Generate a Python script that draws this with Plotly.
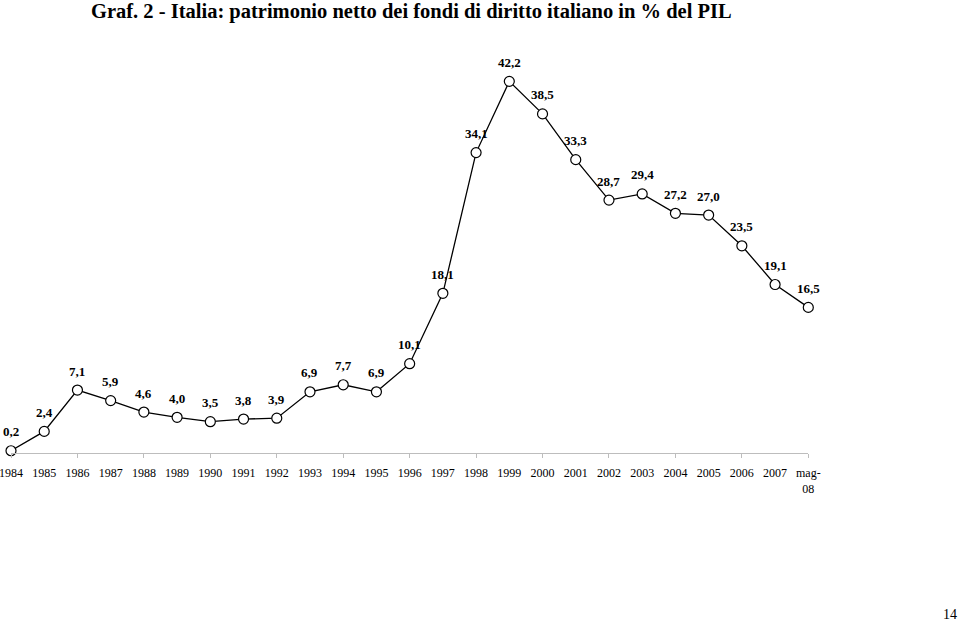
import plotly.graph_objects as go

categories = ["1984", "1985", "1986", "1987", "1988", "1989", "1990", "1991", "1992",
              "1993", "1994", "1995", "1996", "1997", "1998", "1999", "2000", "2001",
              "2002", "2003", "2004", "2005", "2006", "2007", "mag-<br>08"]
values = [0.2, 2.4, 7.1, 5.9, 4.6, 4.0, 3.5, 3.8, 3.9, 6.9, 7.7, 6.9, 10.1, 18.1,
          34.1, 42.2, 38.5, 33.3, 28.7, 29.4, 27.2, 27.0, 23.5, 19.1, 16.5]
title_text = "Graf. 2 - Italia: patrimonio netto dei fondi di diritto italiano in % del PIL"
page_number = "14"

W, H = 959, 624
xpos = list(range(len(categories)))
labels = [f"{v:.1f}".replace(".", ",") for v in values]

FONT = "Liberation Serif, Times New Roman, serif"

fig = go.Figure()
fig.add_trace(go.Scatter(
    x=xpos, y=values, mode="lines+markers",
    line=dict(color="black", width=1.3),
    marker=dict(size=10, color="white", line=dict(color="black", width=1.2)),
    cliponaxis=False, hoverinfo="skip",
))

annotations = [
    dict(x=xi, y=v, xref="x", yref="y", text=t, showarrow=False,
         xanchor="center", yanchor="middle", yshift=19,
         font=dict(family=FONT, size=13, color="black", weight="bold"))
    for xi, v, t in zip(xpos, values, labels)
]
annotations += [
    dict(text=title_text, xref="paper", yref="paper", x=89 / W, y=1 - 11 / H,
         xanchor="left", yanchor="middle", showarrow=False,
         font=dict(family=FONT, size=20.5, color="black", weight="bold")),
    dict(text=page_number, xref="paper", yref="paper", x=950 / W, y=1 - 614 / H,
         xanchor="center", yanchor="middle", showarrow=False,
         font=dict(family=FONT, size=14, color="black")),
]

x0, x1 = 11, 808.3
y_zero = 452.5
px_per_unit = 8.795
ytop = 45
fig.update_layout(
    width=W, height=H,
    margin=dict(l=0, r=0, t=0, b=0, autoexpand=False),
    paper_bgcolor="white", plot_bgcolor="white",
    showlegend=False,
    xaxis=dict(
        domain=[x0 / W, x1 / W], range=[0, len(categories) - 1],
        tickmode="array", tickvals=xpos, ticktext=categories,
        ticks="", showgrid=False, zeroline=False, automargin=False,
        showline=True, linecolor="#bdbdbd", linewidth=1,
        tickfont=dict(family=FONT, size=12, color="black"),
        ticklabeloverflow="allow", ticklabelstandoff=9,
        minor=dict(tickmode="array", tickvals=xpos[::2], ticks="outside",
                   ticklen=4, tickcolor="#bdbdbd", tickwidth=1),
        fixedrange=True,
    ),
    yaxis=dict(
        domain=[(H - y_zero) / H, (H - y_zero + ytop * px_per_unit) / H],
        range=[0, ytop], visible=False, fixedrange=True, automargin=False,
    ),
    annotations=annotations,
)

fig.write_html("out.html")
